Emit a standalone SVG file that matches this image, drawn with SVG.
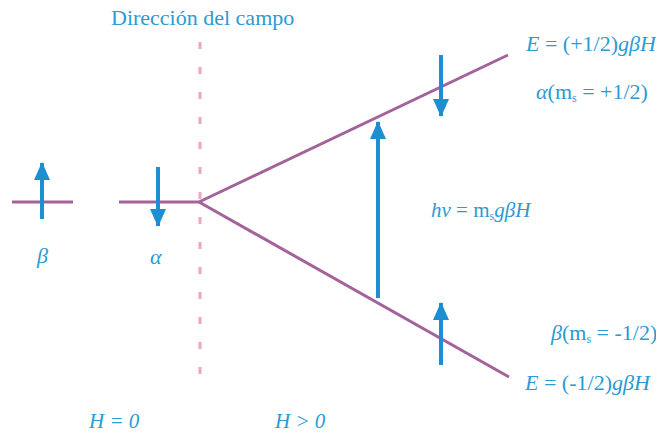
<svg xmlns="http://www.w3.org/2000/svg" width="656" height="436" viewBox="0 0 656 436">
<defs>
<style>
.lvl{stroke:#a3639a;stroke-width:3;fill:none;stroke-linecap:butt}
.arr{stroke:#1b8fd2;stroke-width:4;fill:none}
.t{font-family:"Liberation Serif","Times New Roman",serif;fill:#2a9bd3;font-size:22px}
.i{font-style:italic}
.sub{font-size:12px}
</style>
<marker id="ah" viewBox="0 0 18 16" refX="17" refY="8" markerWidth="18" markerHeight="16" markerUnits="userSpaceOnUse" orient="auto">
<path d="M0,0 L18,8 L0,16 Z" fill="#1b8fd2"/>
</marker>
</defs>
<rect width="656" height="436" fill="#ffffff"/>
<g id="field-axis">
<line x1="200" y1="42" x2="200" y2="386" stroke="#eda6bf" stroke-width="3" stroke-dasharray="7,18"/>
<text class="t" x="111" y="25">Dirección del campo</text>
</g>
<g id="levels">
<line class="lvl" x1="12" y1="202" x2="73" y2="202"/>
<line class="lvl" x1="119" y1="202" x2="199" y2="202"/>
<line class="lvl" x1="199" y1="202" x2="508" y2="55"/>
<line class="lvl" x1="199" y1="202" x2="509" y2="377"/>
</g>
<g id="connectors">
<line class="arr" x1="42" y1="219" x2="42" y2="163" marker-end="url(#ah)"/>
<line class="arr" x1="158" y1="167" x2="158" y2="226" marker-end="url(#ah)"/>
<line class="arr" x1="441" y1="55" x2="441" y2="116" marker-end="url(#ah)"/>
<line class="arr" x1="378" y1="298" x2="378" y2="122" marker-end="url(#ah)"/>
<line class="arr" x1="441" y1="365" x2="441" y2="303" marker-end="url(#ah)"/>
</g>
<g id="labels">
<text class="t" x="526" y="51"><tspan class="i">E</tspan> = (+1/2)<tspan class="i">gβH</tspan></text>
<text class="t" x="536" y="99"><tspan class="i">α</tspan>(m<tspan class="sub" dy="3">s</tspan><tspan dy="-3"> = +1/2)</tspan></text>
<text class="t" x="431" y="217" style="font-size:21px"><tspan class="i">hν</tspan> = m<tspan class="sub" dy="3">s</tspan><tspan class="i" dy="-3">gβH</tspan></text>
<text class="t" x="551" y="340"><tspan class="i">β</tspan>(m<tspan class="sub" dy="3">s</tspan><tspan dy="-3"> = -1/2)</tspan></text>
<text class="t" x="525" y="390"><tspan class="i">E</tspan> = (-1/2)<tspan class="i">gβH</tspan></text>
<text class="t i" x="37" y="263">β</text>
<text class="t i" x="150" y="264">α</text>
<text class="t i" x="89" y="428" style="font-size:21px">H = 0</text>
<text class="t i" x="275" y="428" style="font-size:21px">H &gt; 0</text>
</g>
</svg>
